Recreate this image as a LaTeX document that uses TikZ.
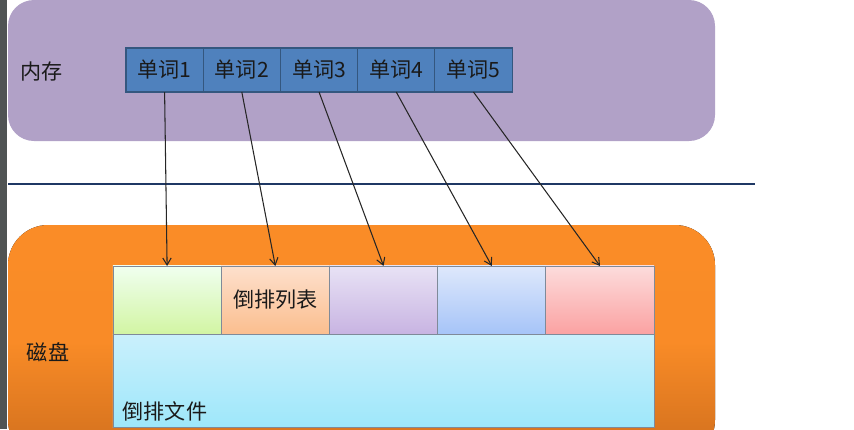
\documentclass[tikz,border=0pt]{standalone}
\usepackage{fontspec}
\usepackage{tikz}
\usetikzlibrary{arrows.meta,positioning,calc}
\newfontfamily\cjk{Noto Sans CJK SC}
\definecolor{stripcol}{HTML}{505454}
\definecolor{memcol}{HTML}{B1A1C7}
\definecolor{disktop}{HTML}{FA8C27}
\definecolor{diskbot}{HTML}{CF6E1D}
\definecolor{wordcol}{HTML}{4F81BD}
\definecolor{wordline}{HTML}{34577F}
\definecolor{sepcol}{HTML}{1F3864}
\definecolor{boxline}{HTML}{7F8A99}
\definecolor{textcol}{HTML}{1A1A1A}

\begin{document}
\begin{tikzpicture}[>={Straight Barb[length=5pt,width=6pt]}, x=0.025cm, y=-0.025cm, node distance=0cm,
	every node/.style={font=\cjk\fontsize{15}{18}\selectfont, text=textcol},
	wordbox/.style={draw=wordline, fill=wordcol, line width=0.8pt, minimum width=1.93cm, minimum height=1.1cm, inner sep=0pt, outer sep=0pt},
	listbox/.style={draw=boxline, line width=0.6pt, minimum width=2.705cm, minimum height=1.7cm, inner sep=0pt, outer sep=0pt},
	filebox/.style={draw=boxline, line width=0.6pt, minimum width=13.525cm, minimum height=2.325cm, inner sep=0pt, outer sep=0pt}]

	\useasboundingbox (0,0) rectangle (854,429);

	% background areas
	\fill[stripcol] (0,0) rectangle (7,429);
	\fill[memcol, rounded corners=0.65cm] (8,0) rectangle (715,141);
	\fill[top color=disktop, bottom color=diskbot, middle color=disktop!97!diskbot, rounded corners=1cm] (8,225) rectangle (715,460);
	\draw[sepcol, line width=2pt] (8,184) -- (755,184);

	\node (mem) at (42,72) {内存};
	\node (disk) at (48,352) {磁盘};

	% words in memory
	\node[wordbox] (w1) at (164.6,70) {单词1};
	\node[wordbox, right=of w1] (w2) {单词2};
	\node[wordbox, right=of w2] (w3) {单词3};
	\node[wordbox, right=of w3] (w4) {单词4};
	\node[wordbox, right=of w4] (w5) {单词5};

	% inverted lists on disk
	\node[listbox, top color=green!6, bottom color={rgb,255:red,210;green,245;blue,163}] (l1) at (167.1,300) {};
	\node[listbox, top color={rgb,255:red,253;green,224;blue,204}, bottom color={rgb,255:red,251;green,190;blue,143}, right=of l1] (l2) {倒排列表};
	\node[listbox, top color={rgb,255:red,232;green,226;blue,245}, bottom color={rgb,255:red,200;green,180;blue,226}, right=of l2] (l3) {};
	\node[listbox, top color={rgb,255:red,222;green,232;blue,251}, bottom color={rgb,255:red,166;green,196;blue,248}, right=of l3] (l4) {};
	\node[listbox, top color={rgb,255:red,252;green,220;blue,220}, bottom color={rgb,255:red,251;green,162;blue,162}, right=of l4] (l5) {};

	\node[filebox, top color={rgb,255:red,202;green,240;blue,252}, bottom color={rgb,255:red,158;green,231;blue,250}, anchor=north west] (file) at (l1.south west) {};
	\node (ftxt) at ($(file.south west)+(52,-16)$) {倒排文件};

	\path[->, black!85, line width=0.75pt] (w1.south) edge [] (l1.north);
	\path[->, black!85, line width=0.75pt] (w2.south) edge [] (l2.north);
	\path[->, black!85, line width=0.75pt] (w3.south) edge [] (l3.north);
	\path[->, black!85, line width=0.75pt] (w4.south) edge [] (l4.north);
	\path[->, black!85, line width=0.75pt] (w5.south) edge [] (l5.north);
\end{tikzpicture}
\end{document}
